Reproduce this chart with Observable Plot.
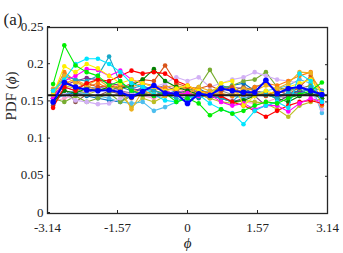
<!DOCTYPE html>
<html>
<head>
<meta charset="utf-8">
<script src="https://cdn.jsdelivr.net/npm/d3@7"></script>
<script src="https://cdn.jsdelivr.net/npm/@observablehq/plot@0.6"></script>
<style>
  html, body { margin: 0; padding: 0; background: #fff; }
  #chart { width: 343px; height: 253px; }
</style>
</head>
<body>
<div id="chart"></div>
<script>
// bin centres of phi (25 bins over [-pi, pi])
const phiCenters = [-3.0159, -2.7646, -2.5133, -2.2619, -2.0106, -1.7593, -1.5080, -1.2566, -1.0053, -0.7540, -0.5027, -0.2513, 0, 0.2513, 0.5027, 0.7540, 1.0053, 1.2566, 1.5080, 1.7593, 2.0106, 2.2619, 2.5133, 2.7646, 3.0159];

const xTickValues = [-3.1416, -1.5708, 0, 1.5708, 3.1416];
const xTickLabels = ["-3.14", "-1.57", "0", "1.57", "3.14"];
const yTickValues = [0, 0.05, 0.1, 0.15, 0.2, 0.25];
const yTickLabels = ["0", "0.05", "0.1", "0.15", "0.2", "0.25"];

// individual PDF curves
const sLime    = [0.174, 0.226, 0.199, 0.190, 0.185, 0.172, 0.178, 0.165, 0.160, 0.158, 0.162, 0.150, 0.155, 0.148, 0.132, 0.140, 0.134, 0.138, 0.145, 0.150, 0.148, 0.155, 0.160, 0.165, 0.176];
const sCyan    = [0.165, 0.180, 0.201, 0.208, 0.208, 0.201, 0.190, 0.175, 0.170, 0.160, 0.152, 0.150, 0.155, 0.160, 0.148, 0.140, 0.135, 0.120, 0.138, 0.145, 0.150, 0.142, 0.188, 0.178, 0.150];
const sTeal    = [0.160, 0.185, 0.180, 0.178, 0.185, 0.211, 0.175, 0.168, 0.172, 0.165, 0.160, 0.155, 0.150, 0.162, 0.158, 0.155, 0.150, 0.165, 0.158, 0.160, 0.155, 0.163, 0.160, 0.170, 0.165];
const sYellow  = [0.160, 0.198, 0.190, 0.201, 0.195, 0.185, 0.175, 0.180, 0.175, 0.170, 0.165, 0.168, 0.172, 0.165, 0.160, 0.175, 0.178, 0.145, 0.158, 0.165, 0.160, 0.170, 0.175, 0.180, 0.162];
const sGold    = [0.158, 0.185, 0.175, 0.172, 0.180, 0.170, 0.168, 0.140, 0.165, 0.160, 0.158, 0.162, 0.160, 0.170, 0.165, 0.158, 0.160, 0.168, 0.165, 0.172, 0.168, 0.175, 0.190, 0.189, 0.160];
const sMagenta = [0.155, 0.178, 0.185, 0.194, 0.193, 0.185, 0.192, 0.180, 0.175, 0.170, 0.165, 0.160, 0.162, 0.158, 0.160, 0.150, 0.145, 0.148, 0.140, 0.145, 0.145, 0.137, 0.148, 0.155, 0.150];
const sRed     = [0.142, 0.170, 0.165, 0.175, 0.180, 0.178, 0.185, 0.192, 0.188, 0.190, 0.188, 0.178, 0.172, 0.165, 0.160, 0.158, 0.150, 0.145, 0.138, 0.130, 0.138, 0.145, 0.150, 0.152, 0.148];
const sGreen   = [0.150, 0.165, 0.162, 0.168, 0.165, 0.170, 0.168, 0.172, 0.180, 0.194, 0.178, 0.170, 0.165, 0.160, 0.158, 0.155, 0.150, 0.152, 0.158, 0.160, 0.155, 0.150, 0.158, 0.162, 0.155];
const sVermil  = [0.165, 0.180, 0.168, 0.175, 0.170, 0.172, 0.168, 0.175, 0.180, 0.178, 0.199, 0.175, 0.170, 0.168, 0.172, 0.165, 0.170, 0.160, 0.162, 0.158, 0.165, 0.160, 0.170, 0.185, 0.165];
const sOlive   = [0.155, 0.150, 0.158, 0.150, 0.155, 0.162, 0.150, 0.158, 0.160, 0.165, 0.162, 0.158, 0.165, 0.170, 0.193, 0.168, 0.172, 0.178, 0.180, 0.190, 0.170, 0.165, 0.168, 0.172, 0.150];
const sLavender= [0.158, 0.160, 0.152, 0.150, 0.147, 0.148, 0.155, 0.160, 0.165, 0.170, 0.175, 0.183, 0.178, 0.183, 0.170, 0.175, 0.180, 0.183, 0.190, 0.185, 0.180, 0.178, 0.175, 0.165, 0.140];
const sSky     = [0.155, 0.160, 0.165, 0.160, 0.158, 0.155, 0.150, 0.148, 0.150, 0.138, 0.143, 0.150, 0.155, 0.160, 0.165, 0.160, 0.158, 0.155, 0.160, 0.165, 0.168, 0.172, 0.180, 0.175, 0.135];
const sSteel   = [0.155, 0.160, 0.162, 0.158, 0.155, 0.152, 0.150, 0.162, 0.168, 0.165, 0.160, 0.165, 0.158, 0.155, 0.162, 0.168, 0.172, 0.175, 0.165, 0.160, 0.158, 0.162, 0.165, 0.160, 0.158];
const sPurple  = [0.160, 0.172, 0.178, 0.182, 0.180, 0.175, 0.172, 0.168, 0.165, 0.160, 0.158, 0.162, 0.165, 0.160, 0.155, 0.158, 0.150, 0.155, 0.158, 0.145, 0.150, 0.158, 0.162, 0.168, 0.160];
const sBrown   = [0.145, 0.168, 0.150, 0.160, 0.158, 0.165, 0.160, 0.155, 0.162, 0.158, 0.165, 0.170, 0.168, 0.162, 0.165, 0.168, 0.165, 0.170, 0.165, 0.162, 0.160, 0.158, 0.165, 0.160, 0.155];
const sOrange  = [0.162, 0.190, 0.178, 0.170, 0.175, 0.168, 0.172, 0.170, 0.175, 0.172, 0.168, 0.165, 0.170, 0.165, 0.162, 0.160, 0.158, 0.165, 0.170, 0.175, 0.172, 0.178, 0.185, 0.190, 0.145];
const sPink    = [0.150, 0.155, 0.160, 0.165, 0.170, 0.168, 0.165, 0.160, 0.158, 0.155, 0.160, 0.162, 0.168, 0.165, 0.160, 0.155, 0.152, 0.150, 0.148, 0.150, 0.155, 0.160, 0.158, 0.162, 0.158];
const sKhaki   = [0.165, 0.172, 0.168, 0.160, 0.165, 0.170, 0.160, 0.143, 0.155, 0.150, 0.158, 0.160, 0.162, 0.160, 0.155, 0.150, 0.148, 0.152, 0.150, 0.148, 0.140, 0.130, 0.145, 0.150, 0.155];
const sGray    = [0.160, 0.165, 0.162, 0.160, 0.158, 0.162, 0.165, 0.160, 0.158, 0.160, 0.162, 0.158, 0.155, 0.160, 0.162, 0.165, 0.160, 0.158, 0.162, 0.160, 0.158, 0.155, 0.160, 0.162, 0.155];
const sAmber   = [0.168, 0.175, 0.180, 0.172, 0.165, 0.170, 0.175, 0.168, 0.160, 0.165, 0.170, 0.172, 0.168, 0.160, 0.165, 0.162, 0.158, 0.160, 0.165, 0.160, 0.165, 0.170, 0.168, 0.172, 0.152];
const sCobalt  = [0.152, 0.160, 0.165, 0.170, 0.168, 0.165, 0.170, 0.165, 0.160, 0.158, 0.165, 0.160, 0.162, 0.168, 0.160, 0.172, 0.168, 0.162, 0.170, 0.175, 0.165, 0.160, 0.165, 0.168, 0.160];
const sViolet  = [0.158, 0.170, 0.165, 0.162, 0.168, 0.172, 0.165, 0.162, 0.170, 0.168, 0.172, 0.165, 0.160, 0.158, 0.162, 0.165, 0.170, 0.168, 0.160, 0.158, 0.162, 0.165, 0.170, 0.165, 0.158];

// highlighted mean curve and uniform reference 1/(2*pi)
const sMean = [0.150, 0.176, 0.170, 0.166, 0.165, 0.166, 0.163, 0.157, 0.164, 0.172, 0.162, 0.161, 0.148, 0.161, 0.159, 0.168, 0.165, 0.163, 0.163, 0.179, 0.161, 0.168, 0.170, 0.165, 0.160];
const uniformPdf = [0.159];

const seriesList = [sGray, sPink, sViolet, sCobalt, sBrown, sSteel, sAmber, sPurple, sKhaki, sSky, sOlive, sLavender, sOrange, sVermil, sGreen, sTeal, sGold, sRed, sMagenta, sYellow, sCyan, sLime];
const seriesColors = ["#8a8a8a", "#ff99cc", "#9467bd", "#1f77b4", "#8c564b", "#0072bd", "#f0a030", "#7e2f8e", "#bcbd22", "#4dbeee", "#77ac30", "#d2b0f5", "#ff7f0e", "#d95319", "#008000", "#17a8c8", "#edb120", "#ff0000", "#ff00ff", "#ffee00", "#00e5ff", "#00ee00"];

const toRows = (vals) => vals.map((v, i) => ({x: phiCenters[i], y: v}));

const seriesMarks = seriesList.flatMap((vals, k) => [
  Plot.line(toRows(vals), {x: "x", y: "y", stroke: seriesColors[k], strokeWidth: 1.1}),
  Plot.dot(toRows(vals), {x: "x", y: "y", fill: seriesColors[k], r: 2.3})
]);

const xFmt = d => xTickLabels[xTickValues.indexOf(d)] ?? "";
const yFmt = d => yTickLabels[yTickValues.indexOf(d)] ?? "";

const chart = Plot.plot({
  width: 343,
  height: 253,
  marginLeft: 47,
  marginRight: 16,
  marginTop: 27,
  marginBottom: 40,
  x: {domain: [-3.1416, 3.1416]},
  y: {domain: [0, 0.25]},
  style: {fontFamily: "'Liberation Serif', 'Times New Roman', serif", fontSize: "13px", background: "#fff", color: "#222"},
  marks: [
    ...seriesMarks,
    Plot.ruleY(uniformPdf, {y: d => d, stroke: "#1a1a1a", strokeWidth: 2}),
    Plot.line(toRows(sMean), {x: "x", y: "y", stroke: "#0000ff", strokeWidth: 2}),
    Plot.dot(toRows(sMean), {x: "x", y: "y", fill: "#0000ff", r: 2.8}),
    Plot.frame({stroke: "#262626", strokeWidth: 1.3}),
    Plot.axisX({ticks: xTickValues, tickFormat: xFmt, tickSize: -3, tickPadding: 12, label: null, stroke: "#262626"}),
    Plot.axisX({anchor: "top", ticks: xTickValues, tickFormat: () => "", tickSize: -3, label: null, stroke: "#262626"}),
    Plot.axisY({ticks: yTickValues, tickFormat: yFmt, tickSize: -3, tickPadding: 7, dy: -1, label: null, stroke: "#262626"}),
    Plot.axisY({anchor: "right", ticks: yTickValues, tickFormat: () => "", tickSize: -3, label: null, stroke: "#262626"}),
    Plot.text(["ϕ"], {frameAnchor: "bottom", dy: 34, fontSize: 15, fontStyle: "italic", fill: "#222"}),
    Plot.text(["PDF (ϕ)"], {frameAnchor: "left", dx: -36, rotate: -90, fontSize: 15, fill: "#222"}),
    Plot.text(["(a)"], {frameAnchor: "top-left", dx: -44, dy: -15, textAnchor: "start", fontSize: 17, fill: "#222"})
  ]
});

// italicise the phi inside the y label
chart.querySelectorAll("text").forEach(t => {
  if (t.textContent === "PDF (ϕ)") {
    t.textContent = "";
    const parts = [["PDF (", "normal"], ["ϕ", "italic"], [")", "normal"]];
    for (const [s, st] of parts) {
      const ts = document.createElementNS("http://www.w3.org/2000/svg", "tspan");
      ts.setAttribute("font-style", st);
      ts.textContent = s;
      t.appendChild(ts);
    }
  }
});

document.getElementById("chart").appendChild(chart);
</script>
</body>
</html>
